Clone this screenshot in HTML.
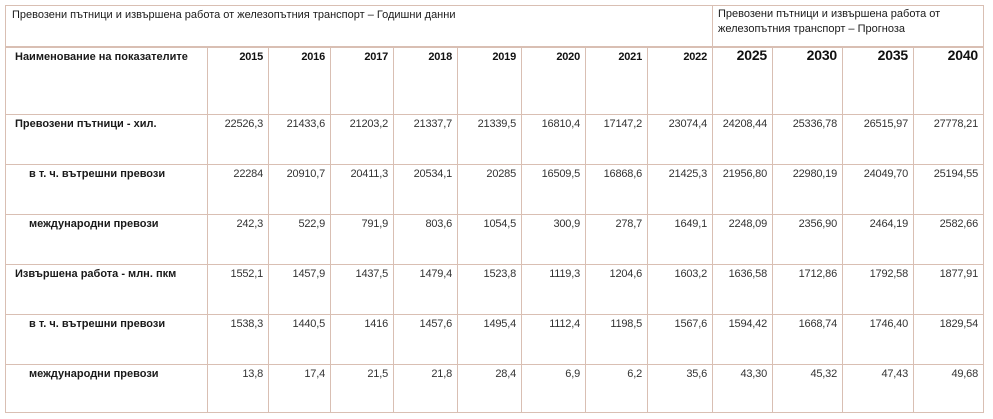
<!DOCTYPE html>
<html><head><meta charset="utf-8">
<style>
html,body{margin:0;padding:0;background:#fff;}
body{width:993px;height:419px;position:relative;overflow:hidden;font-family:"Liberation Sans","DejaVu Sans",sans-serif;color:#1a1a1a;}
.vl{position:absolute;width:1px;background:#d9bfb3;}
.hl{position:absolute;height:1px;background:#d9bfb3;}
.t{position:absolute;font-size:11px;white-space:nowrap;line-height:13px;}
.b{font-weight:bold;}
.n{text-align:right;color:#333;letter-spacing:-0.2px;}
</style></head><body>
<div id="tbl"></div>
<script>
const years = ["2015","2016","2017","2018","2019","2020","2021","2022","2025","2030","2035","2040"];
const labels = ["Превозени пътници - хил.","в т. ч. вътрешни превози","международни превози","Извършена работа - млн. пкм","в т. ч. вътрешни превози","международни превози"];
const indents = [0,1,1,0,1,1];
const row1 = ["22526,3","21433,6","21203,2","21337,7","21339,5","16810,4","17147,2","23074,4","24208,44","25336,78","26515,97","27778,21"];
const row2 = ["22284","20910,7","20411,3","20534,1","20285","16509,5","16868,6","21425,3","21956,80","22980,19","24049,70","25194,55"];
const row3 = ["242,3","522,9","791,9","803,6","1054,5","300,9","278,7","1649,1","2248,09","2356,90","2464,19","2582,66"];
const row4 = ["1552,1","1457,9","1437,5","1479,4","1523,8","1119,3","1204,6","1603,2","1636,58","1712,86","1792,58","1877,91"];
const row5 = ["1538,3","1440,5","1416","1457,6","1495,4","1112,4","1198,5","1567,6","1594,42","1668,74","1746,40","1829,54"];
const row6 = ["13,8","17,4","21,5","21,8","28,4","6,9","6,2","35,6","43,30","45,32","47,43","49,68"];
const rows = [row1,row2,row3,row4,row5,row6];

const X=[5,207,268,330,393,457,521,585,647,712,772,842,913,983];
const Y=[5,46,114,164,214,264,314,364,412];
const root=document.getElementById('tbl');
function line(cls,l,t,w,h){const d=document.createElement('div');d.className=cls;d.style.left=l+'px';d.style.top=t+'px';if(w)d.style.width=w+'px';if(h)d.style.height=h+'px';


root.appendChild(d);return d;}
function txt(s,l,t,w,cls,fs){const d=document.createElement('div');d.className='t '+cls;d.textContent=s;d.style.left=l+'px';d.style.top=t+'px';if(w)d.style.width=w+'px';if(fs)d.style.fontSize=fs+'px';root.appendChild(d);return d;}
// horizontal lines
line('hl',X[0],Y[0],X[13]-X[0]+1);
const th=line('hl',X[0],Y[1],X[13]-X[0]+1);th.style.height='2px';
for(let i=2;i<Y.length;i++) line('hl',X[0],Y[i],X[13]-X[0]+1);
// vertical lines
line('vl',X[0],Y[0],0,Y[8]-Y[0]+1);
line('vl',X[9],Y[0],0,Y[1]-Y[0]);
line('vl',X[13],Y[0],0,Y[8]-Y[0]+1);
for(let i=1;i<13;i++) line('vl',X[i],Y[1],0,Y[8]-Y[1]);
// titles
let e=txt('Превозени пътници и извършена работа от железопътния транспорт – Годишни данни',X[0]+7,Y[0]+4,0,'');


e=txt('Превозени пътници и извършена работа от',X[9]+6,Y[0]+3,0,'');


e=txt('железопътния транспорт – Прогноза',X[9]+6,Y[0]+18,0,'');


e=txt('Наименование на показателите',X[0]+10,Y[1]+5,0,'b');


years.forEach((y,i)=>{const big=i>=8;const d=txt(y,X[i+1],Y[1]+(big?3:5),X[i+2]-X[i+1]-5,'b n',big?14:11);d.style.color='#111';

});
labels.forEach((lb,r)=>{const d=txt(lb,X[0]+(indents[r]?24:10),Y[r+2]+4,0,'b');


rows[r].forEach((v,c)=>{const n=txt(v,X[c+1],Y[r+2]+4,X[c+2]-X[c+1]-5,'n');

});});
</script>
</body></html>
